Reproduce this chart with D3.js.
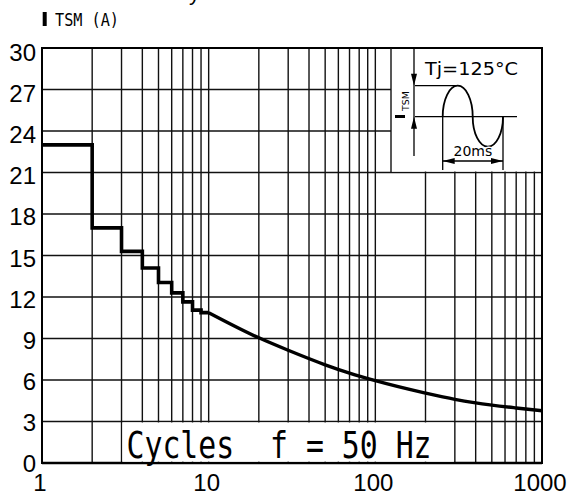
<!DOCTYPE html>
<html><head><meta charset="utf-8">
<script src="https://cdn.jsdelivr.net/npm/d3@7"></script>
<style>html,body{margin:0;padding:0;background:#fff;} svg{display:block;}</style>
</head><body><svg id="c" width="572" height="497"></svg>
<script>
// ---- data ----
const stepCycles = [1, 2, 3, 4, 5, 6, 7, 8, 9, 10];
const stepCurrent = [23, 17, 15.3, 14.1, 13.05, 12.3, 11.65, 11.05, 10.87];
const curveCycles = [10, 20, 30, 50, 70, 100, 200, 300, 400, 700, 1000];
const curveCurrent = [10.87, 9.05, 8.15, 7.1, 6.5, 5.95, 5.05, 4.6, 4.35, 3.98, 3.78];
const yTicks = [0, 3, 6, 9, 12, 15, 18, 21, 24, 27, 30];
const xTickLabels = [1, 10, 100, 1000];
const decades = [1, 10, 100];
const multipliers = [1, 2, 3, 4, 5, 6, 7, 8, 9];
const xTitle = "Cycles  f = 50 Hz";
const yTitle = "TSM (A)";
const insetTitle = "Tj=125\u00b0C";
const insetSpan = "20ms";

const svg = d3.select("#c");
const W = 572, H = 497;
svg.append("rect").attr("width", W).attr("height", H).attr("fill", "#fff");

const x = d3.scaleLog().domain([1, 1000]).range([42, 542]);
const y = d3.scaleLinear().domain([0, 30]).range([463, 48]);
const yLab = d3.scaleLinear().domain([0, 30]).range([472, 61]);

const xGrid = decades.flatMap(d => multipliers.map(m => d * m)).concat([1000]);

const g = svg.append("g");
g.selectAll("line.vx").data(xGrid).join("line")
  .attr("x1", d => x(d)).attr("x2", d => x(d))
  .attr("y1", y(30)).attr("y2", y(0))
  .attr("stroke", "#111").attr("stroke-width", 1.4);
g.selectAll("line.hy").data(yTicks).join("line")
  .attr("x1", x(1)).attr("x2", x(1000))
  .attr("y1", d => y(d)).attr("y2", d => y(d))
  .attr("stroke", "#111").attr("stroke-width", 1.4);
g.append("rect").attr("x", x(1)).attr("y", y(30))
  .attr("width", x(1000) - x(1)).attr("height", y(0) - y(30))
  .attr("fill", "none").attr("stroke", "#000").attr("stroke-width", 2);
g.append("line").attr("x1", x(1)).attr("x2", x(1000)).attr("y1", y(0)).attr("y2", y(0))
  .attr("stroke", "#000").attr("stroke-width", 2.6);

// label box in bottom band
svg.append("rect").attr("x", x(3) + 1).attr("y", y(3) + 1)
  .attr("width", x(300) - x(3) - 2).attr("height", y(0) - y(3) - 2.4)
  .attr("fill", "#fff");
svg.append("text").text(xTitle)
  .attr("font-family", "DejaVu Sans Mono").attr("font-size", 30)
  .style("white-space", "pre")
  .attr("textLength", 305).attr("lengthAdjust", "spacingAndGlyphs")
  .attr("transform", `translate(${x(3) + 5},458) scale(1,1.22)`);

// inset
const ix0 = 391, ix1 = x(1000), iy0 = y(30), iy1 = y(21);
svg.append("rect").attr("x", ix0).attr("y", iy0 + 1).attr("width", ix1 - ix0 - 1).attr("height", iy1 - iy0 - 2)
  .attr("fill", "#fff");
svg.append("line").attr("x1", ix0).attr("x2", ix0).attr("y1", iy0).attr("y2", iy1)
  .attr("stroke", "#111").attr("stroke-width", 1.4);
const ins = svg.append("g").attr("stroke", "#000").attr("fill", "none").attr("stroke-width", 1.3);
const base = 116.7, peak = 85.7, trough = 146.7, w0 = 442.7, wm = 472.7, w1 = 503;
ins.append("line").attr("x1", 415).attr("x2", 456).attr("y1", peak).attr("y2", peak);
ins.append("line").attr("x1", 415).attr("x2", 517).attr("y1", base).attr("y2", base);
ins.append("path").attr("stroke-width", 1.8)
  .attr("d", `M${w0},${base} A${(wm - w0) / 2},${base - peak} 0 0 1 ${wm},${base} A${(w1 - wm) / 2},${trough - base} 0 0 0 ${w1},${base}`);
ins.append("line").attr("x1", 414).attr("x2", 414).attr("y1", iy0).attr("y2", 156);
ins.append("line").attr("x1", w0).attr("x2", w0).attr("y1", base).attr("y2", 170);
ins.append("line").attr("x1", w1).attr("x2", w1).attr("y1", base).attr("y2", 170);
ins.append("line").attr("x1", w0).attr("x2", w1).attr("y1", 161).attr("y2", 161);
const arrows = svg.append("g").attr("fill", "#000");
arrows.append("path").attr("d", `M414,${peak} l-3,-12 l6,0 z`);
arrows.append("path").attr("d", `M414,${base} l-3,12 l6,0 z`);
arrows.append("path").attr("d", `M${w0},161 l12,-3 l0,6 z`);
arrows.append("path").attr("d", `M${w1},161 l-12,-3 l0,6 z`);
svg.append("text").text(insetTitle).attr("x", 425).attr("y", 75)
  .attr("font-family", "DejaVu Sans").attr("font-size", 18)
  .attr("textLength", 93).attr("lengthAdjust", "spacingAndGlyphs");
svg.append("text").text(insetSpan).attr("x", (w0 + w1) / 2).attr("y", 156)
  .attr("text-anchor", "middle").attr("font-family", "DejaVu Sans").attr("font-size", 14)
  .attr("fill", "#000").attr("stroke", "#fff").attr("stroke-width", 3).attr("paint-order", "stroke");
svg.append("rect").attr("x", 395).attr("y", 115).attr("width", 10).attr("height", 3).attr("fill", "#000");
svg.append("text").text("TSM").attr("transform", "translate(409,111) rotate(-90)")
  .attr("font-family", "DejaVu Sans").attr("font-size", 9.5);

// data curves
const stepPts = stepCurrent.map((v, i) => [stepCycles[i], v]).concat([[stepCycles[stepCycles.length - 1], stepCurrent[stepCurrent.length - 1]]]);
svg.append("path").datum(stepPts)
  .attr("d", d3.line().x(d => x(d[0])).y(d => y(d[1])).curve(d3.curveStepAfter))
  .attr("fill", "none").attr("stroke", "#000").attr("stroke-width", 3.6).attr("stroke-linejoin", "miter");
svg.append("path").datum(curveCycles.map((c, i) => [c, curveCurrent[i]]))
  .attr("d", d3.line().x(d => x(d[0])).y(d => y(d[1])).curve(d3.curveMonotoneX))
  .attr("fill", "none").attr("stroke", "#000").attr("stroke-width", 3.4);

// axis labels
svg.selectAll("text.yl").data(yTicks).join("text")
  .attr("x", 36).attr("y", d => yLab(d)).attr("text-anchor", "end")
  .attr("font-family", "Liberation Sans, Arial").attr("font-size", 24).text(d => d);
svg.selectAll("text.xl").data(xTickLabels).join("text")
  .attr("x", d => x(d) - 2).attr("y", 491).attr("text-anchor", "middle")
  .attr("font-family", "Liberation Sans, Arial").attr("font-size", 24).text(d => d);

// y title
svg.append("rect").attr("x", 42.7).attr("y", 12).attr("width", 4).attr("height", 14).attr("fill", "#000");
svg.append("text").text(yTitle)
  .attr("font-family", "DejaVu Sans Mono").attr("font-size", 17)
  .style("white-space", "pre").attr("textLength", 64).attr("lengthAdjust", "spacingAndGlyphs")
  .attr("transform", "translate(55,26) scale(1,1.08)");
// cut-off glyph at the very top (as in the source)
svg.append("text").text("y").attr("x", 189).attr("y", 0)
  .attr("font-family", "Liberation Sans, Arial").attr("font-size", 22);
</script></body></html>
